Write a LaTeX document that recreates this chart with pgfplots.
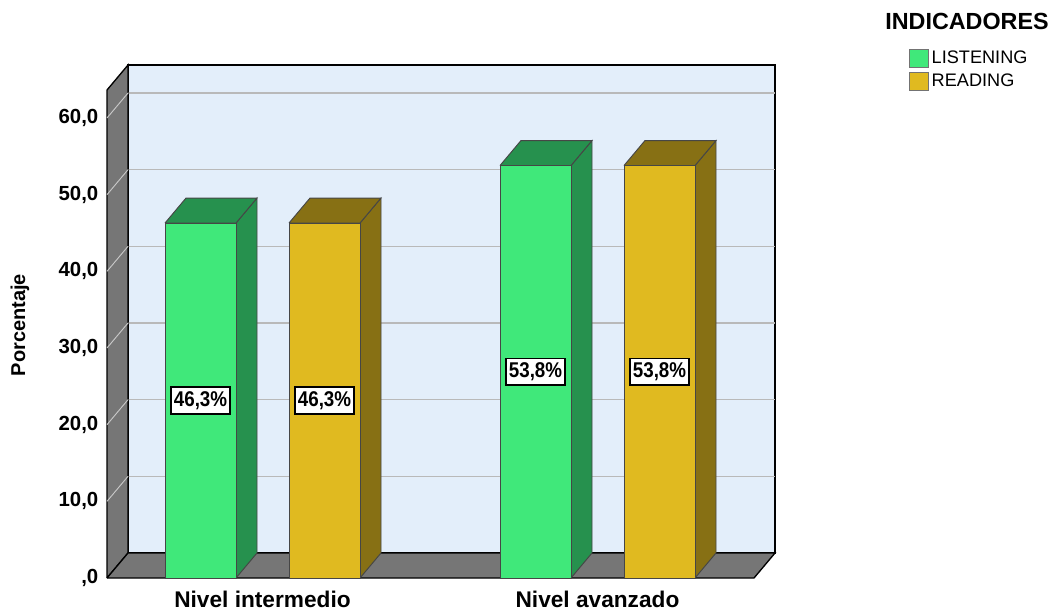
\documentclass[border=0pt]{standalone}
\usepackage{fontspec}
\setmainfont{Liberation Sans}
\usepackage{graphicx}
\usepackage{pgfplots}
\pgfplotsset{compat=1.18}
\definecolor{lisF}{RGB}{64,232,122}
\definecolor{lisD}{RGB}{38,145,78}
\definecolor{reaF}{RGB}{224,186,32}
\definecolor{reaD}{RGB}{135,112,20}
\definecolor{wallG}{RGB}{118,118,118}
\definecolor{backW}{RGB}{227,238,250}
\definecolor{gridG}{RGB}{185,185,185}
\definecolor{gridL}{RGB}{200,200,200}
\definecolor{edgeG}{RGB}{70,70,70}
\pgfplotsset{
  sqlegend/.style={legend image code/.code={\draw[##1,draw=black!55,line width=0.6pt] (0pt,-6.75pt) rectangle (14.25pt,6.75pt);}},
  face/.style={forget plot, draw=edgeG, line width=0.7pt},
}
\begin{document}
\begin{tikzpicture}
\useasboundingbox (0,0) rectangle (792.75pt,458.25pt);
\begin{axis}[
  at={(80.25pt,24.75pt)}, anchor=south west,
  x=0.75pt, y=5.75pt,
  xmin=107, xmax=776, ymin=0, ymax=67,
  clip=false,
  axis x line*=bottom, axis y line*=left,
  axis line style={draw=none},
  tick style={draw=none},
  ytick={0,10,20,30,40,50,60},
  yticklabels={{,0},{10,0},{20,0},{30,0},{40,0},{50,0},{60,0}},
  yticklabel style={font=\bfseries\fontsize{15.3pt}{18pt}\selectfont, xshift=-3pt},
  xtick={262.5,597.5},
  xticklabels={Nivel intermedio,Nivel avanzado},
  xticklabel style={font=\bfseries\fontsize{17pt}{20pt}\selectfont, yshift=-6.5pt},
  ylabel={Porcentaje},
  every axis y label/.style={at={(axis description cs:-0.130,0.4925)}, rotate=90, anchor=center, font=\bfseries\fontsize{15pt}{17pt}\selectfont},
  legend style={at={(axis cs:909,69.1)}, anchor=north west, draw=none, fill=none,
    font=\fontsize{13.6pt}{16pt}\selectfont, inner sep=0pt, row sep=2pt,
    /tikz/every even column/.append style={column sep=6pt}},
  legend cell align=left,
]
% back wall
\addplot[forget plot, fill=backW, draw=black, line width=0.9pt] coordinates {(128,3.26) (775,3.26) (775,66.91) (128,66.91) (128,3.26)};
% gridlines on back wall
\addplot[forget plot, gridG, line width=1pt] coordinates {(128,13.26) (775,13.26)};
\addplot[forget plot, gridG, line width=1pt] coordinates {(128,23.26) (775,23.26)};
\addplot[forget plot, gridG, line width=1pt] coordinates {(128,33.26) (775,33.26)};
\addplot[forget plot, gridG, line width=1pt] coordinates {(128,43.26) (775,43.26)};
\addplot[forget plot, gridG, line width=1pt] coordinates {(128,53.26) (775,53.26)};
\addplot[forget plot, gridG, line width=1pt] coordinates {(128,63.26) (775,63.26)};
% left wall
\addplot[forget plot, fill=wallG, draw=black, line width=1pt] coordinates {(107,0) (107,63.65) (128,66.91) (128,3.26) (107,0)};
\addplot[forget plot, gridL, line width=0.7pt] coordinates {(107,10) (128,13.26)};
\addplot[forget plot, gridL, line width=0.7pt] coordinates {(107,20) (128,23.26)};
\addplot[forget plot, gridL, line width=0.7pt] coordinates {(107,30) (128,33.26)};
\addplot[forget plot, gridL, line width=0.7pt] coordinates {(107,40) (128,43.26)};
\addplot[forget plot, gridL, line width=0.7pt] coordinates {(107,50) (128,53.26)};
\addplot[forget plot, gridL, line width=0.7pt] coordinates {(107,60) (128,63.26)};
% floor
\addplot[forget plot, fill=wallG, draw=black, line width=1pt] coordinates {(107,0) (754,0) (775,3.26) (128,3.26) (107,0)};
% bar side and top faces
\addplot[face, fill=lisD] coordinates {(236,0) (236,46.3) (257,49.56) (257,3.26) (236,0)};
\addplot[face, fill=lisD] coordinates {(165,46.3) (186,49.56) (257,49.56) (236,46.3) (165,46.3)};
\addplot[face, fill=reaD] coordinates {(360,0) (360,46.3) (381,49.56) (381,3.26) (360,0)};
\addplot[face, fill=reaD] coordinates {(289,46.3) (310,49.56) (381,49.56) (360,46.3) (289,46.3)};
\addplot[face, fill=lisD] coordinates {(571,0) (571,53.8) (592,57.06) (592,3.26) (571,0)};
\addplot[face, fill=lisD] coordinates {(500,53.8) (521,57.06) (592,57.06) (571,53.8) (500,53.8)};
\addplot[face, fill=reaD] coordinates {(695,0) (695,53.8) (716,57.06) (716,3.26) (695,0)};
\addplot[face, fill=reaD] coordinates {(624,53.8) (645,57.06) (716,57.06) (695,53.8) (624,53.8)};
% front faces
\addplot[ybar, bar width=71, bar shift=0pt, fill=lisF, draw=edgeG, line width=0.7pt, sqlegend] coordinates {(200.5,46.3) (535.5,53.8)};
\addlegendentry{LISTENING}
\addplot[ybar, bar width=71, bar shift=0pt, fill=reaF, draw=edgeG, line width=0.7pt, sqlegend] coordinates {(324.5,46.3) (659.5,53.8)};
\addlegendentry{READING}
% value labels
\addplot[forget plot, draw=none, point meta=explicit symbolic,
  nodes near coords={\scalebox{0.88}[1]{\pgfplotspointmeta}},
  every node near coord/.style={anchor=center, draw=black, line width=1.1pt, fill=white,
    minimum width=44.25pt, minimum height=20pt, inner sep=1pt,
    font=\bfseries\fontsize{16pt}{18pt}\selectfont}]
  coordinates {(200.5,23.15) [46,3\%] (324.5,23.15) [46,3\%] (535.5,26.9) [53,8\%] (659.5,26.9) [53,8\%]};
\node[font=\bfseries\fontsize{17.5pt}{20pt}\selectfont] at (axis cs:967,72.55) {INDICADORES};
\end{axis}
\end{tikzpicture}
\end{document}
